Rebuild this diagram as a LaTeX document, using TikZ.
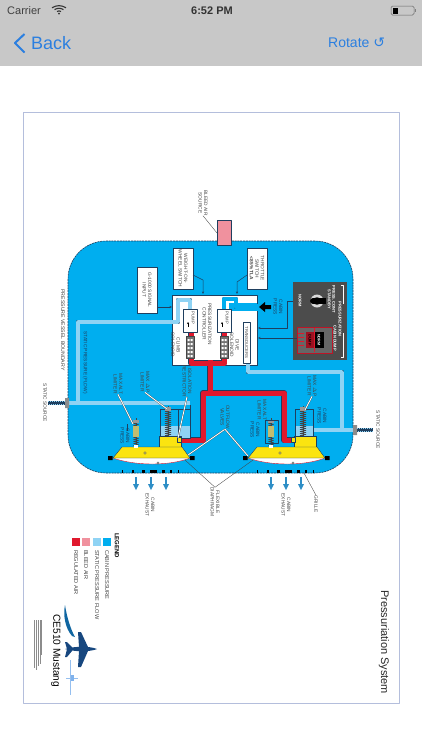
\documentclass[tikz,border=0pt]{standalone}
\usepackage{fontspec}
\setmainfont{Liberation Sans}
\newfontfamily\symfont{DejaVu Sans}
\usetikzlibrary{arrows.meta,decorations.pathmorphing}
\definecolor{barcol}{HTML}{C8C8C8}
\definecolor{linkcol}{HTML}{2B7FE0}
\definecolor{framecol}{HTML}{B4BEDC}
\definecolor{cabincol}{HTML}{00AEEF}
\definecolor{staticcol}{HTML}{8FD3F4}
\definecolor{bleedcol}{HTML}{F0919E}
\definecolor{regcol}{HTML}{E0182D}
\definecolor{edgecol}{HTML}{1F3F5F}
\definecolor{planecol}{HTML}{17477F}
\definecolor{inkcol}{HTML}{444444}
\definecolor{exhcol}{HTML}{2E8EC6}
\definecolor{valvecol}{HTML}{FBE410}
\tikzset{
  lbl/.style={rotate=-90,align=center,inner sep=0pt,text=inkcol,font=\fontsize{4.8}{5.4}\selectfont},
  lblb/.style={lbl,text=edgecol},
  whitetxt/.style={lbl,text=white,font=\fontsize{4}{4.6}\selectfont\bfseries},
  legtxt/.style={lbl,anchor=west,font=\fontsize{5.6}{6}\selectfont},
  infobox/.style={draw=edgecol,fill=white,line width=.4pt},
  pipe/.style={draw=edgecol,double=staticcol,double distance=3.5pt,line width=.4pt},
  cabinpipe/.style={pipe,double=cabincol,double distance=4pt},
  redpipe/.style={pipe,double=regcol,double distance=5pt,line width=.5pt},
  lead/.style={draw=inkcol,double=white,double distance=.9pt,line width=.3pt},
  sig/.style={draw=edgecol,line width=.5pt,-{Stealth[length=2.5pt,width=2pt]}},
}
\begin{document}
\begin{tikzpicture}[x=1pt,y=-1pt,line join=round]
\useasboundingbox (0,0) rectangle (422,750);
% top bars
\fill[barcol] (0,0) rectangle (422,66);
\node[inner sep=0pt,anchor=west,font=\fontsize{11}{12}\selectfont,text=black!75] (carrier) at (7,10.5) {Carrier};
\foreach \r in {2,4.5,7}
  \draw[line width=1.1pt,black!80] (59-\r,13-.75*\r) .. controls (59-.3*\r,13-1.15*\r) and (59+.3*\r,13-1.15*\r) .. (59+\r,13-.75*\r);
\fill[black!80] (59,13.5) circle (1pt);
\node[inner sep=0pt,font=\fontsize{11}{12}\selectfont\bfseries,text=black!80] (clock) at (212,10.5) {6:52 PM};
\draw[black!60,line width=.5pt,rounded corners=1.5pt] (391,6) rectangle (414,15);
\fill[black] (392.5,7.5) rectangle (398,13.5);
\fill[black!50] (415,9) rectangle (416,12);
\draw[linkcol,line width=2pt] (24.5,34) -- (15,43) -- (24.5,52.5);
\node[inner sep=0pt,anchor=west,font=\fontsize{18}{20}\selectfont,text=linkcol] (back) at (31,43) {Back};
\node[inner sep=0pt,anchor=west,font=\fontsize{14}{16}\selectfont,text=linkcol] (rotate) at (328,43) {Rotate \symfont ↺};
% page frame
\draw[framecol,line width=.9pt] (23,112) rectangle (399,703);
% cabin
\fill[cabincol,rounded corners=38pt] (68,241) rectangle (353,473);
\draw[edgecol,line width=.6pt,dash pattern=on 2pt off .8pt,rounded corners=38pt] (68,241) rectangle (353,473);
\fill[bleedcol] (217,220) rectangle (231,245);
\draw[edgecol,line width=.3pt] (217,220) rectangle (231,245);
% controller
\fill[white] (172,295) -- (257,295) -- (257,304) -- (240,304) -- (240,311) -- (257,311) -- (257,365) -- (172,365) -- cycle;
\draw[edgecol,line width=.4pt] (257,304) -- (257,295) -- (172,295) -- (172,365) -- (257,365) -- (257,311);
\fill[cabincol] (229,303) rectangle (257,311);
\draw[cabinpipe] (224,310) -- (224,299) -- (236,299) -- (236,307) -- (258,307);
\draw[pipe] (190,310) -- (190,300) -- (178,300) -- (178,322) -- (78,322) -- (78,403);
\draw[pipe] (67,403) -- (190,403);
\draw[pipe] (248,362) -- (248,372) -- (342,372) -- (342,430);
\draw[pipe] (355,430) -- (313,430);
% regulated air
\draw[redpipe] (210,362) -- (210,393);
\draw[redpipe] (191,332) -- (191,363) -- (224,363) -- (224,332);
\draw[redpipe] (180,440) -- (203,440) -- (203,393) -- (284,393) -- (284,440) -- (292,440);
\draw[regcol,line width=5pt] (205,393) -- (215,393);
\draw[regcol,line width=5pt] (210,360) -- (210,392);
% pumps and solenoids
\foreach \px/\pn in {183/climb,217/dive}{
  \node[infobox,minimum width=14pt,minimum height=23pt,inner sep=0pt] (\pn pump) at (\px+7,320.5) {};
  \node[lbl,font=\fontsize{4.2}{4.6}\selectfont] at (\px+10,318) {PUMP};
  \draw[-{Stealth[length=2pt,width=2pt]},line width=.4pt] (\px+5,327) -- (\px+5,322);
  \node[draw=inkcol,fill=black!55,minimum width=8pt,minimum height=22pt,inner sep=0pt,line width=.4pt] (\pn sol) at (\px+7,347) {};
  \foreach \sy in {339,343,347,351,355}
    \fill[white] (\px+4.5,\sy) rectangle (\px+6.5,\sy+2) (\px+7.5,\sy) rectangle (\px+9.5,\sy+2);
}
\node[lbl] (climblbl) at (175.5,345) {CLIMB\\SOLENOID};
\node[lbl] (divelbl) at (234.5,345) {DIVE\\SOLENOID};
\node[lbl] (ctrl) at (207,324) {PRESSURIZATION\\CONTROLLER};
\node[infobox,minimum width=7pt,minimum height=41pt,inner sep=0pt] (trans) at (246.5,342.5) {};
\node[lbl,font=\fontsize{4.2}{4.6}\selectfont] at (246.5,342.5) {TRANSDUCERS};
% input boxes
\node[infobox,minimum width=20pt,minimum height=41pt,inner sep=0pt] (wow) at (183,268.5) {};
\node[lbl] at (183,268.5) {WEIGHT-ON-\\WHEEL SWITCH};
\node[infobox,minimum width=20pt,minimum height=46pt,inner sep=0pt] (gsig) at (147,290) {};
\node[lbl] at (147,290) {G-1000 SIGNAL\\INPUT};
\node[infobox,minimum width=20pt,minimum height=41pt,inner sep=0pt] (thr) at (257,268.5) {};
\node[lbl] at (257,268.5) {THROTTLE\\SWITCH\\\textbf{<85\% TLA}};
\coordinate (gsigout) at (157,307);
\draw[sig] (193,275) -- (203,280) -- (203,294);
\draw[sig] (gsigout) -- (172,307);
\draw[sig] (247,275) -- (237,282) -- (237,294);
% cabin press port
\fill[black] (259,307) -- (265,302) -- (265,305) -- (271,305) -- (271,309) -- (265,309) -- (265,312) -- cycle;
\node[lblb] (portpress) at (278,307) {CABIN\\PRESS};
% switch panel
\node[draw=none,fill=black!70,minimum width=54pt,minimum height=78pt,inner sep=0pt] (panel) at (320,321) {};
\draw[white,line width=.5pt] (341,285) -- (343.5,285) -- (343.5,304) (343.5,333) -- (343.5,357) -- (341,357);
\node[whitetxt] (psz) at (340,319) {PRESSURIZATION};
\node[whitetxt,align=center] (pcont) at (331.5,299.5) {PRESS. CONT\\STANDBY};
\node[whitetxt] (dumplbl) at (335,338) {CABIN DUMP};
\node[whitetxt] (normlbl) at (300,301) {NORM};
\fill[black!15] (317,301) circle (6.5pt);
\fill[black!70] (317,301) circle (4pt);
\fill[black] (313,298) rectangle (326,304);
\fill[black] (313,301) circle (3pt);
\draw[regcol!85!black,fill=black!60,line width=.8pt] (297,327) rectangle (332,353);
\fill[black] (306,332) rectangle (324,348);
\fill[regcol!70!black] (306,332) rectangle (314,348);
\draw[regcol,line width=.7pt] (314,328) -- (314,352);
\foreach \ty in {333,337,341,345}
  \draw[regcol,line width=.6pt] (298,\ty) -- (304,\ty);
\node[lbl,font=\fontsize{3.8}{4}\selectfont\bfseries,text=black] (dumpbtn) at (310,340) {DUMP};
\node[lbl,font=\fontsize{3.8}{4}\selectfont\bfseries,text=white] (normbtn) at (319,340) {NORM};
\draw[sig] (293,301) -- (287,301) -- (287,328) -- (258,328);
\draw[sig] (297,338) -- (258,338);
% outflow valves
\fill[staticcol] (178,426) rectangle (190,438);
\draw[edgecol,line width=.4pt] (178,409) -- (190,409) (190,405) -- (190,438) -- (178,438);
\foreach \vx/\vn in {0/l,135/r}{
\begin{scope}[xshift=\vx pt]
  \fill[staticcol] (160,426) rectangle (178,438);
  \draw[edgecol,line width=.4pt] (160,409) rectangle (178,438);
  \draw[decorate,decoration={zigzag,amplitude=3pt,segment length=2pt},inkcol,line width=.5pt] (168,410) -- (168,436);
  \draw[inkcol,line width=1pt] (168,406) -- (168,441);
  \fill[black!40] (165,407) rectangle (171,411);
  \fill[valvecol] (159,436) rectangle (181,448);
  \draw[edgecol,line width=.3pt] (159,447) -- (159,436) -- (181,436) -- (181,447);
  \fill[white] (113,458) .. controls (135,466) and (170,466) .. (190,458) -- cycle;
  \draw[regcol,line width=.4pt] (113,458) .. controls (135,466) and (170,466) .. (190,458);
  \fill[valvecol,draw=edgecol,line width=.4pt] (113,458) -- (122,447) -- (182,447) -- (190,458) -- cycle;
  \fill[black] (108,456) rectangle (112.5,460) (190,456) rectangle (194.5,460);
  \draw[inkcol,fill=yellow!60,line width=.3pt] (145,453) circle (1.3pt);
  \draw[inkcol,fill=white,line width=.3pt] (158,463) circle (1.2pt);
  \draw[decorate,decoration={zigzag,amplitude=2.5pt,segment length=2pt},inkcol,line width=.5pt] (136,420) -- (136,446);
  \draw[inkcol,line width=.8pt] (136,418) -- (136,447);
  \fill[yellow!60!black!70] (133,426) rectangle (139,437);
  \fill[black!40] (133,420) rectangle (139,423);
  \fill[white] (134,445) rectangle (138,448);
  \foreach \ex in {136,151,166}{
    \draw[line width=1.4pt,exhcol] (\ex,477) -- (\ex,485);
    \fill[exhcol] (\ex-3,484) -- (\ex+3,484) -- (\ex,490) -- cycle;
  }
  \foreach \gx/\gw in {122/1,132/2,142/3,150/7,162/3,170/2,178/1}
    \fill[black] (\gx,469.5) rectangle (\gx+\gw,473);
\end{scope}
}
\draw[edgecol,fill=valvecol,line width=.3pt] (177,437.5) rectangle (181,442.5);
\draw[edgecol,fill=valvecol,line width=.3pt] (291,437.5) rectangle (295,442.5);
\draw[edgecol,line width=.4pt] (265,420) rectangle (278,443);
\draw[edgecol,line width=.4pt] (127,424) -- (127,431);
\node[lblb] (lpress) at (125,436) {CABIN\\PRESS};
\node[lblb] (rpress) at (255,430) {CABIN\\PRESS};
\node[lblb] (rpress2) at (322,416) {CABIN\\PRESS};
\node[lbl] (lmaxalt) at (118,384) {MAX ALT\\LIMITER};
\node[lbl] (lmaxdp) at (145,382) {MAX $\Delta$P\\LIMITER};
\node[lbl] (rest) at (187,381) {ISOLATION\\RESTRICTOR};
\node[lbl] (rmaxalt) at (262,410) {MAX ALT\\LIMITER};
\node[lbl] (rmaxdp) at (312,386) {MAX $\Delta$P\\LIMITER};
\node[lbl] (outflow) at (225,417) {OUTFLOW\\VALVES};
\node[lbl] (flex) at (215,502) {FLEXIBLE\\DIAPHRAGM};
\node[lbl] (grille) at (316,504) {GRILLE};
\node[lbl] (lexh) at (150,505) {CABIN\\EXHAUST};
\node[lbl] (rexh) at (286,505) {CABIN\\EXHAUST};
\coordinate (lalt) at (133,424);
\coordinate (ldp) at (167,409);
\coordinate (lres) at (178,438);
\coordinate (rdp) at (305,410);
\coordinate (lvalve) at (188,455);
\coordinate (rvalve) at (248,456);
\coordinate (ldia) at (185,460);
\coordinate (rdia) at (253,460);
\coordinate (grl) at (304,473);
\draw[lead] (lmaxalt.east) -- (lalt);
\draw[lead] (lmaxdp.east) -- (ldp);
\draw[lead] (rest.east) -- (lres);
\draw[lead] (rmaxdp.east) -- (rdp);
\draw[lead] (outflow.east) -- (lvalve);
\draw[lead] (outflow.east) -- (rvalve);
\draw[inkcol,line width=.35pt] (ldia) -- (flex.west) -- (rdia);
\draw[inkcol,line width=.35pt] (grl) -- (grille.west);
% static sources
\foreach \sx/\sy in {48/403,355/430}{
  \draw[edgecol,line width=4pt] (\sx,\sy) -- (\sx+18,\sy);
  \draw[staticcol,line width=1.3pt,dash pattern=on 1pt off 1pt] (\sx,\sy-1.2) -- (\sx+18,\sy-1.2);
  \draw[staticcol,line width=1.3pt,dash pattern=on 1pt off 1pt,dash phase=1pt] (\sx,\sy+1.2) -- (\sx+18,\sy+1.2);
}
\fill[black!45] (65,398) rectangle (69,408) (353,425) rectangle (357,435);
\node[lbl] (lsrc) at (45,403) {STATIC SOURCE};
\node[lbl] (rsrc) at (378,430) {STATIC SOURCE};
\node[lbl,font=\fontsize{5.2}{5.6}\selectfont] (vessel) at (63,330) {PRESSURE VESSEL BOUNDARY};
\node[lblb] (flow) at (85,362.5) {STATIC PRESSURE (FLOW)};
\node[lbl] (bleed) at (203,203) {BLEED AIR\\SOURCE};
\coordinate (bl) at (217,233);
\draw[inkcol,line width=.35pt] (bleed.east) -- (bl);
% legend
\node[lbl,anchor=west,text=black,font=\fontsize{6}{7}\selectfont\bfseries] (legend) at (117,533) {LEGEND};
\foreach \lx/\lc/\lt in {107/cabincol/CABIN PRESSURE,97/staticcol/STATIC PRESSURE FLOW,86/bleedcol/BLEED AIR,76/regcol/REGULATED AIR}{
  \fill[\lc] (\lx-4,538) rectangle (\lx+4,546);
  \node[legtxt] at (\lx,550) {\lt};
}
% logo
\fill[planecol!70!cabincol] (65,605) .. controls (67,618) and (71,630) .. (75,637) -- (72,636) .. controls (65,628) and (63,615) .. (65,605) -- cycle;
\fill[planecol] (65,649) .. controls (75,646) and (90,646) .. (97,649) .. controls (90,652) and (75,652) .. (65,649) -- cycle;
\fill[planecol] (78,632) -- (81,632) -- (88,647) -- (88,651) -- (81,667) -- (78,667) -- (79,651) -- (79,647) -- cycle;
\fill[planecol] (65,642) -- (67,642) -- (72,647) -- (72,651) -- (67,657) -- (65,657) -- (67,649) -- cycle;
\draw[linkcol!50,line width=.5pt] (70,660) -- (70,695);
\draw[linkcol!50,line width=.5pt] (66,678) -- (78,678);
\fill[linkcol!60] (71,675) rectangle (74,681);
\node[lbl,anchor=west,text=black,font=\fontsize{10.2}{12}\selectfont] (ce) at (56,614) {CE510 Mustang};
\foreach \nx/\ne in {34/668,36/670,38/666,40/664,41.5/655}
  \draw[black!45,line width=.7pt] (\nx,620) -- (\nx,\ne);
\node[lbl,anchor=west,text=black!85,font=\fontsize{11}{12}\selectfont] (title) at (384,590) {Pressuriation System};
\end{tikzpicture}
\end{document}
